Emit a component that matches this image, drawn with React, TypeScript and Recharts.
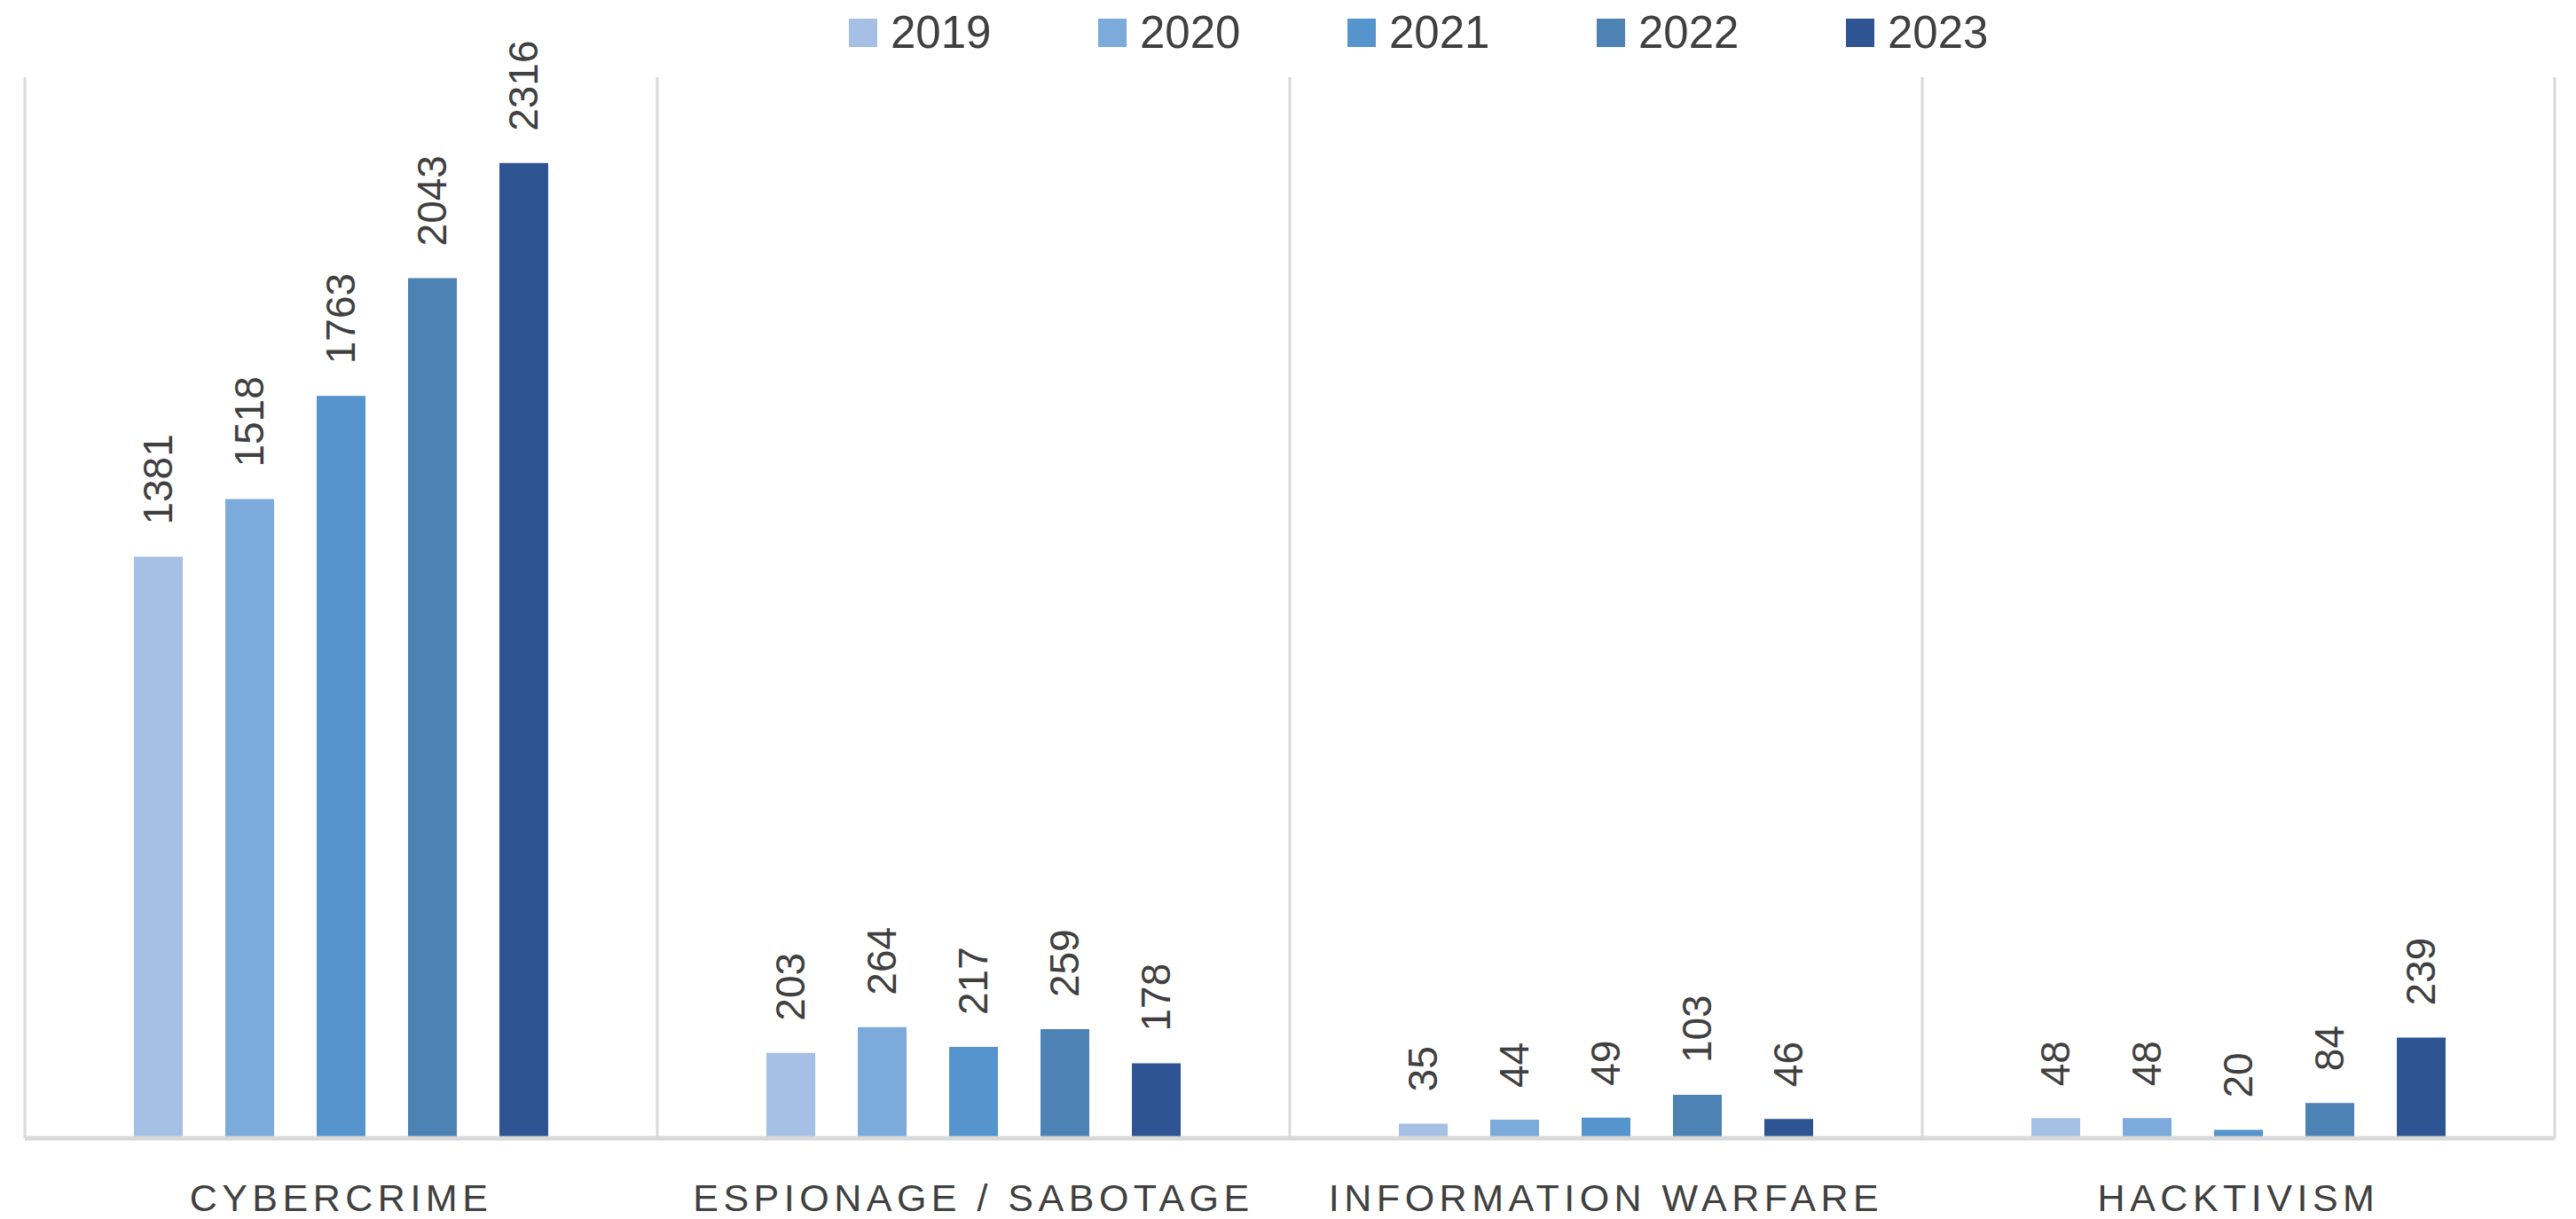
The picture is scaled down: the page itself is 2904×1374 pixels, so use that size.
import React from "react";
import { BarChart, Bar, XAxis, YAxis, CartesianGrid, Legend, LabelList } from "recharts";

const categories = ["CYBERCRIME", "ESPIONAGE / SABOTAGE", "INFORMATION WARFARE", "HACKTIVISM"];
const years = ["2019", "2020", "2021", "2022", "2023"];
const values2019 = [1381, 203, 35, 48];
const values2020 = [1518, 264, 44, 48];
const values2021 = [1763, 217, 49, 20];
const values2022 = [2043, 259, 103, 84];
const values2023 = [2316, 178, 46, 239];
const colors = ["#A5C0E4", "#7BAADB", "#5594CC", "#4C82B4", "#2E5494"];

const seriesValues = [values2019, values2020, values2021, values2022, values2023];
const data = categories.map((name, i) => {
  const row: any = { name };
  years.forEach((y, k) => {
    row[y] = seriesValues[k][i];
  });
  return row;
});

// the page keeps the browser's default body margin; drop it so the chart fills the window
document.body.style.margin = "0";

const font = "'Liberation Sans', Arial, sans-serif";

const ValueLabel = (props: any) => {
  const { x, y, width, value } = props;
  const cx = x + width / 2;
  const ty = y - 36;
  return (
    <text
      x={cx}
      y={ty}
      transform={`rotate(-90 ${cx} ${ty})`}
      textAnchor="start"
      dominantBaseline="central"
      fontFamily={font}
      fontSize={46}
      fill="#404040"
    >
      {value}
    </text>
  );
};

const CategoryTick = (props: any) => {
  const { x, y, payload } = props;
  return (
    <text
      x={x}
      y={y + 74}
      textAnchor="middle"
      fontFamily={font}
      fontSize={43}
      letterSpacing={5.5}
      fill="#404040"
    >
      {payload.value}
    </text>
  );
};

const LegendContent = () => (
  <div style={{ display: "flex", alignItems: "center" }}>
    {years.map((y, i) => (
      <div key={y} style={{ display: "flex", alignItems: "center", width: 281 }}>
        <span style={{ display: "inline-block", width: 32, height: 32, background: colors[i], marginRight: 15 }} />
        <span style={{ fontFamily: font, fontSize: 51, color: "#404040", lineHeight: 1 }}>{y}</span>
      </div>
    ))}
  </div>
);

export default function App() {
  return (
    <BarChart
      width={2904}
      height={1374}
      data={data}
      margin={{ top: 87, right: 24, left: 28, bottom: 61 }}
      barSize={55}
      barGap={48}
    >
      <CartesianGrid
        horizontal={false}
        stroke="#d9d9d9"
        strokeWidth={3}
        verticalCoordinatesGenerator={({ offset }: any) =>
          [0, 1, 2, 3, 4].map((i) => offset.left + (i * offset.width) / 4)
        }
      />
      <XAxis
        dataKey="name"
        height={30}
        axisLine={{ stroke: "#d9d9d9", strokeWidth: 5 }}
        tickLine={false}
        tick={<CategoryTick />}
        interval={0}
      />
      <YAxis hide domain={[0, 2520]} />
      <Legend
        verticalAlign="middle"
        content={<LegendContent />}
        wrapperStyle={{ top: 11, left: 957, width: "auto" }}
      />
      {years.map((y, i) => (
        <Bar key={y} dataKey={y} fill={colors[i]} isAnimationActive={false}>
          <LabelList dataKey={y} content={<ValueLabel />} />
        </Bar>
      ))}
    </BarChart>
  );
}
